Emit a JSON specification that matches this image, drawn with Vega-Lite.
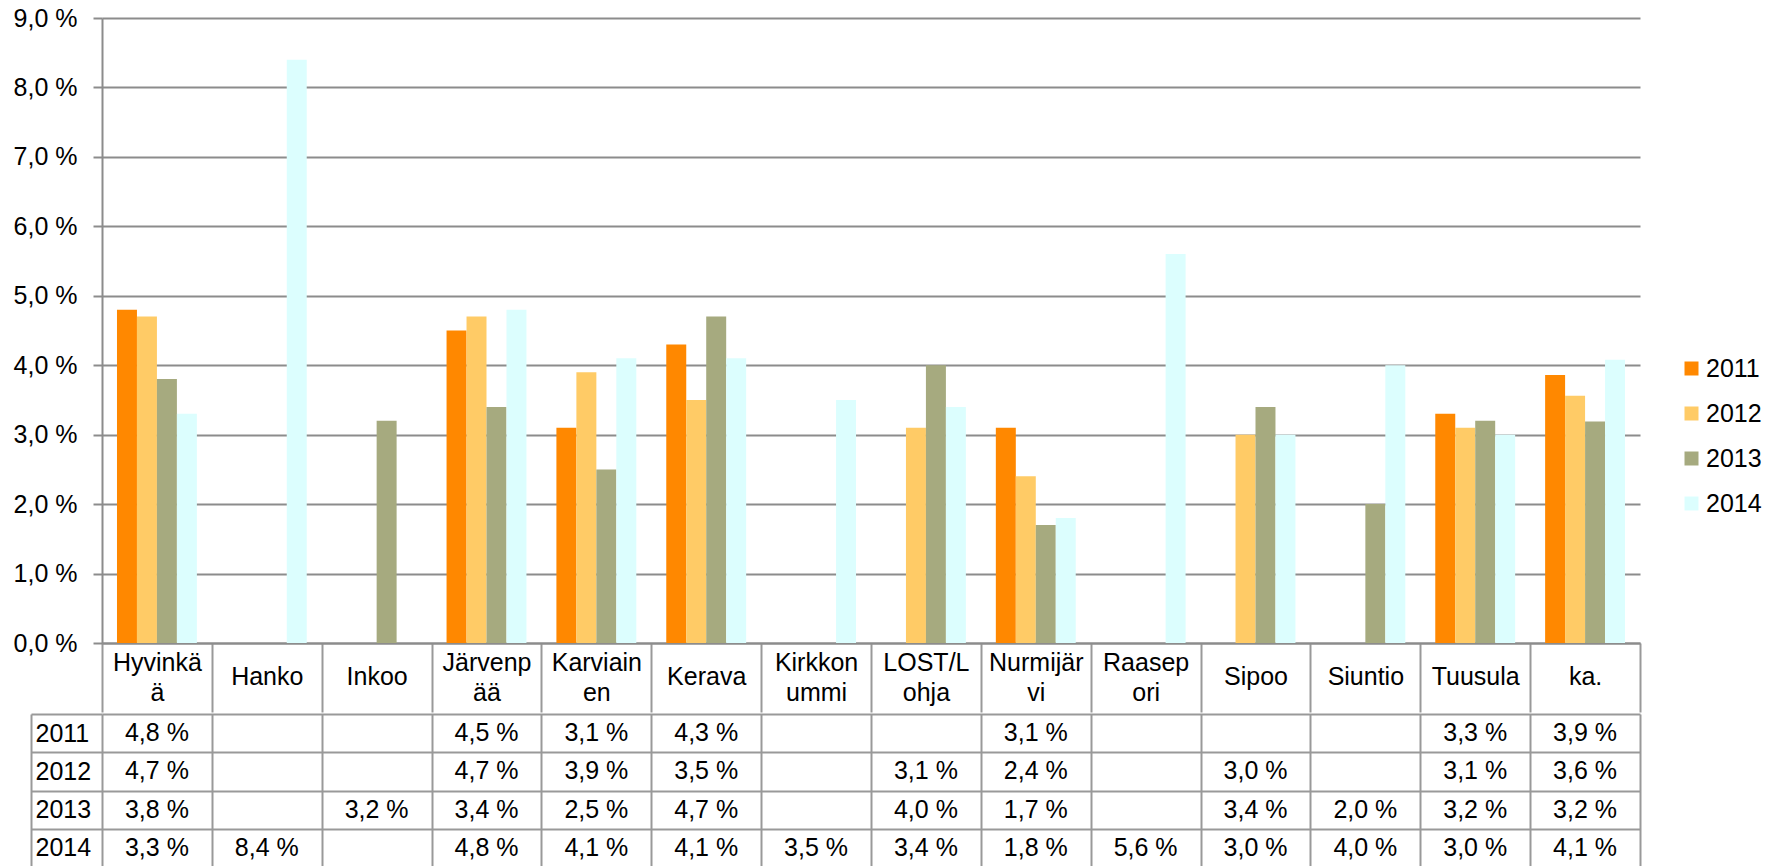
{
  "$schema": "https://vega.github.io/schema/vega-lite/v6.json",
  "padding": {"left": 13, "top": 6, "right": 0, "bottom": 0},
  "background": "#ffffff",
  "datasets": {
    "t": [
      {"kunta": "Hyvinkää", "vuosi": "2011", "v": 0.048},
      {"kunta": "Hyvinkää", "vuosi": "2012", "v": 0.047},
      {"kunta": "Hyvinkää", "vuosi": "2013", "v": 0.038},
      {"kunta": "Hyvinkää", "vuosi": "2014", "v": 0.033},
      {"kunta": "Hanko", "vuosi": "2014", "v": 0.084},
      {"kunta": "Inkoo", "vuosi": "2013", "v": 0.032},
      {"kunta": "Järvenpää", "vuosi": "2011", "v": 0.045},
      {"kunta": "Järvenpää", "vuosi": "2012", "v": 0.047},
      {"kunta": "Järvenpää", "vuosi": "2013", "v": 0.034},
      {"kunta": "Järvenpää", "vuosi": "2014", "v": 0.048},
      {"kunta": "Karviainen", "vuosi": "2011", "v": 0.031},
      {"kunta": "Karviainen", "vuosi": "2012", "v": 0.039},
      {"kunta": "Karviainen", "vuosi": "2013", "v": 0.025},
      {"kunta": "Karviainen", "vuosi": "2014", "v": 0.041},
      {"kunta": "Kerava", "vuosi": "2011", "v": 0.043},
      {"kunta": "Kerava", "vuosi": "2012", "v": 0.035},
      {"kunta": "Kerava", "vuosi": "2013", "v": 0.047},
      {"kunta": "Kerava", "vuosi": "2014", "v": 0.041},
      {"kunta": "Kirkkonummi", "vuosi": "2014", "v": 0.035},
      {"kunta": "LOST/Lohja", "vuosi": "2012", "v": 0.031},
      {"kunta": "LOST/Lohja", "vuosi": "2013", "v": 0.040},
      {"kunta": "LOST/Lohja", "vuosi": "2014", "v": 0.034},
      {"kunta": "Nurmijärvi", "vuosi": "2011", "v": 0.031},
      {"kunta": "Nurmijärvi", "vuosi": "2012", "v": 0.024},
      {"kunta": "Nurmijärvi", "vuosi": "2013", "v": 0.017},
      {"kunta": "Nurmijärvi", "vuosi": "2014", "v": 0.018},
      {"kunta": "Raasepori", "vuosi": "2014", "v": 0.056},
      {"kunta": "Sipoo", "vuosi": "2012", "v": 0.030},
      {"kunta": "Sipoo", "vuosi": "2013", "v": 0.034},
      {"kunta": "Sipoo", "vuosi": "2014", "v": 0.030},
      {"kunta": "Siuntio", "vuosi": "2013", "v": 0.020},
      {"kunta": "Siuntio", "vuosi": "2014", "v": 0.040},
      {"kunta": "Tuusula", "vuosi": "2011", "v": 0.033},
      {"kunta": "Tuusula", "vuosi": "2012", "v": 0.031},
      {"kunta": "Tuusula", "vuosi": "2013", "v": 0.032},
      {"kunta": "Tuusula", "vuosi": "2014", "v": 0.030},
      {"kunta": "ka.", "vuosi": "2011", "v": 0.0386},
      {"kunta": "ka.", "vuosi": "2012", "v": 0.0356},
      {"kunta": "ka.", "vuosi": "2013", "v": 0.0319},
      {"kunta": "ka.", "vuosi": "2014", "v": 0.0408}
    ]
  },
  "spacing": -11,
  "vconcat": [
    {
      "width": 1538,
      "height": 625,
      "data": {"name": "t"},
      "mark": {"type": "bar"},
      "encoding": {
        "x": {
          "field": "kunta",
          "type": "nominal",
          "sort": null,
          "scale": {
            "domain": ["Hyvinkää", "Hanko", "Inkoo", "Järvenpää", "Karviainen", "Kerava", "Kirkkonummi", "LOST/Lohja", "Nurmijärvi", "Raasepori", "Sipoo", "Siuntio", "Tuusula", "ka."],
            "paddingInner": 0,
            "paddingOuter": 0
          },
          "axis": {
            "title": null,
            "orient": "bottom",
            "labelAngle": 0,
            "tickBand": "extent",
            "tickSize": 69,
            "tickColor": "#999999",
            "tickWidth": 2,
            "domainColor": "#8c8c8c",
            "domainWidth": 2,
            "labelPadding": -49.25,
            "labelBaseline": {
              "condition": {"test": "datum.value == 'Hyvinkää' || datum.value == 'Järvenpää' || datum.value == 'Karviainen' || datum.value == 'Kirkkonummi' || datum.value == 'LOST/Lohja' || datum.value == 'Nurmijärvi' || datum.value == 'Raasepori'", "value": "middle"},
              "value": "line-top"
            },
            "labelLineHeight": 30,
            "labelOverlap": false,
            "labelFontSize": 25,
            "labelColor": "#000000",
            "labelExpr": "{'Hyvinkää':['Hyvinkä','ä'],'Järvenpää':['Järvenp','ää'],'Karviainen':['Karviain','en'],'Kirkkonummi':['Kirkkon','ummi'],'LOST/Lohja':['LOST/L','ohja'],'Nurmijärvi':['Nurmijär','vi'],'Raasepori':['Raasep','ori']}[datum.value] || datum.value"
          }
        },
        "xOffset": {
          "field": "vuosi",
          "type": "nominal",
          "scale": {"domain": ["2011", "2012", "2013", "2014"], "paddingInner": 0, "paddingOuter": 0.75}
        },
        "y": {
          "field": "v",
          "type": "quantitative",
          "scale": {"domain": [0, 0.09], "nice": false},
          "axis": {
            "title": null,
            "format": ".1%",
            "values": [0, 0.01, 0.02, 0.03, 0.04, 0.05, 0.06, 0.07, 0.08, 0.09],
            "grid": true,
            "gridColor": "#8c8c8c",
            "gridWidth": 2,
            "domainColor": "#8c8c8c",
            "domainWidth": 2,
            "tickColor": "#8c8c8c",
            "tickWidth": 2,
            "tickSize": 9,
            "labelPadding": 16,
            "labelFontSize": 25,
            "labelColor": "#000000"
          }
        },
        "color": {
          "field": "vuosi",
          "type": "nominal",
          "scale": {"domain": ["2011", "2012", "2013", "2014"], "range": ["#ff8800", "#ffcb66", "#a6aa7f", "#dcfefe"]},
          "legend": {
            "title": null,
            "orient": "none",
            "legendX": 1577,
            "legendY": 338,
            "symbolType": "square",
            "symbolSize": 196,
            "symbolStrokeWidth": 0,
            "labelFontSize": 25,
            "labelColor": "#000000",
            "labelLimit": 0,
            "labelOffset": 2,
            "rowPadding": 19
          }
        }
      }
    },
    {
      "width": 1538,
      "height": 153,
      "data": {"name": "t"},
      "mark": {"type": "text", "fontSize": 25, "color": "#000000", "align": "center", "baseline": "middle"},
      "encoding": {
        "x": {
          "field": "kunta",
          "type": "nominal",
          "sort": null,
          "scale": {
            "domain": ["Hyvinkää", "Hanko", "Inkoo", "Järvenpää", "Karviainen", "Kerava", "Kirkkonummi", "LOST/Lohja", "Nurmijärvi", "Raasepori", "Sipoo", "Siuntio", "Tuusula", "ka."],
            "paddingInner": 0,
            "paddingOuter": 0
          },
          "axis": {
            "title": null,
            "labels": false,
            "ticks": false,
            "domain": false,
            "grid": true,
            "tickBand": "extent",
            "gridColor": "#999999",
            "gridWidth": 2
          }
        },
        "y": {
          "field": "vuosi",
          "type": "nominal",
          "sort": null,
          "scale": {"domain": ["2011", "2012", "2013", "2014"], "paddingInner": 0, "paddingOuter": 0},
          "axis": {
            "title": null,
            "orient": "left",
            "offset": 71,
            "tickSize": -71,
            "tickBand": "extent",
            "tickColor": "#999999",
            "tickWidth": 2,
            "domain": true,
            "domainColor": "#999999",
            "domainWidth": 2,
            "grid": true,
            "gridColor": "#999999",
            "gridWidth": 2,
            "labelAlign": "left",
            "labelBaseline": "middle",
            "labelPadding": 67,
            "labelFontSize": 25,
            "labelColor": "#000000"
          }
        },
        "text": {"field": "v", "type": "quantitative", "format": ".1%"}
      }
    }
  ],
  "config": {
    "font": "Liberation Sans",
    "view": {"stroke": null},
    "locale": {
      "number": {"decimal": ",", "thousands": " ", "grouping": [3], "currency": ["", " €"], "percent": " %"}
    }
  }
}
